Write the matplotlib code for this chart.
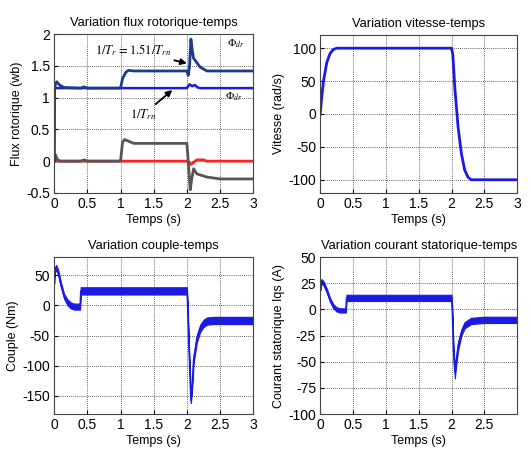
import matplotlib.pyplot as plt
import numpy as np

plt.rcParams['font.family'] = ['Liberation Sans', 'DejaVu Sans']
plt.rcParams['mathtext.fontset'] = 'stix'
plt.rcParams['axes.unicode_minus'] = False

# --- flux (wb) ---
t_phid = [0, 0.005, 0.02, 0.04, 0.08, 0.15, 0.4, 0.45, 0.5, 1.0, 1.03, 1.08, 1.12, 1.2, 2.0, 2.02, 2.04, 2.06, 2.08, 2.1, 2.15, 2.2, 2.3, 3.0]
phid = [0, 1.1, 1.22, 1.25, 1.2, 1.16, 1.15, 1.17, 1.15, 1.15, 1.3, 1.4, 1.43, 1.42, 1.42, 1.35, 1.5, 1.92, 1.75, 1.62, 1.55, 1.48, 1.42, 1.42]
t_phin = [0, 0.005, 2.0, 2.04, 2.08, 2.12, 2.16, 2.2, 3.0]
phin = [0, 1.15, 1.15, 1.21, 1.18, 1.2, 1.16, 1.15, 1.15]
t_phiq = [0, 0.02, 0.05, 0.1, 0.4, 0.45, 0.5, 1.0, 1.03, 1.06, 1.2, 2.0, 2.03, 2.05, 2.07, 2.1, 2.15, 2.3, 2.5, 3.0]
phiq = [0, 0.1, 0.02, 0, 0, 0.02, 0, 0, 0.3, 0.34, 0.28, 0.28, -0.15, -0.45, -0.3, -0.12, -0.2, -0.25, -0.28, -0.28]
t_phir = [0, 2.0, 2.03, 2.06, 2.1, 2.15, 2.25, 2.3, 3.0]
phir = [0, 0, -0.02, -0.05, -0.02, 0.02, 0.02, 0, 0]

# --- vitesse (rad/s) ---
t_w = [0, 0.02, 0.05, 0.1, 0.15, 0.2, 0.25, 2.0, 2.02, 2.05, 2.1, 2.15, 2.2, 2.25, 2.3, 3.0]
w = [0, 22, 50, 78, 92, 98, 100, 100, 90, 40, -20, -60, -85, -96, -100, -100]

# --- couple (Nm): centre and noise half-width ---
t_ce = [0, 0.01, 0.03, 0.06, 0.1, 0.15, 0.2, 0.25, 0.3, 0.39, 0.4, 0.5, 1.0, 1.5, 2.0, 2.01, 2.03, 2.05, 2.06, 2.08, 2.1, 2.15, 2.2, 2.25, 2.3, 2.4, 2.5, 3.0]
ce = [40, 58, 63, 55, 35, 15, 5, 0, -2, -2, 24, 24, 24, 24, 24, 0, -70, -130, -158, -130, -90, -55, -38, -30, -26, -25, -25, -25]
ce_n = [4, 4, 4, 4, 4, 4, 5, 5, 5, 5, 6, 6, 6, 6, 6, 6, 6, 6, 4, 6, 6, 6, 6, 6, 6, 6, 6, 6]

# --- courant iqs (A) ---
t_iq = [0, 0.02, 0.05, 0.1, 0.15, 0.2, 0.25, 0.3, 0.39, 0.4, 0.5, 1.0, 1.5, 2.0, 2.01, 2.03, 2.05, 2.07, 2.1, 2.15, 2.2, 2.3, 2.5, 3.0]
iq = [20, 27, 25, 18, 9, 3, 0, -1, -1, 11, 11, 11, 11, 11, 0, -40, -60, -50, -35, -22, -15, -11, -10, -10]
iq_n = [2, 2, 2, 2, 2, 2, 2, 2, 2, 3, 3, 3, 3, 3, 3, 4, 6, 4, 4, 3, 3, 3, 3, 3]

navy = '#1c3a8f'
blue = '#1a1ae6'
gray = '#555555'
red = '#ff2020'

fig = plt.figure(figsize=(5.31, 4.55), dpi=100)
ax1 = fig.add_axes([0.102, 0.576, 0.375, 0.349])
ax2 = fig.add_axes([0.603, 0.576, 0.371, 0.347])
ax3 = fig.add_axes([0.102, 0.090, 0.375, 0.345])
ax4 = fig.add_axes([0.603, 0.090, 0.371, 0.345])


def style(ax, title, ylabel):
    ax.set_title(title, fontsize=9.3, pad=6)
    ax.set_xlabel('Temps (s)', fontsize=9, labelpad=2)
    ax.set_ylabel(ylabel, fontsize=9, labelpad=2)
    ax.grid(True, color='#333333', linestyle=(0, (1, 1.5)), linewidth=0.6)
    ax.tick_params(direction='in', labelsize=10, length=3, pad=3)
    ax.set_xlim(0, 3)
    for s in ax.spines.values():
        s.set_color('#444444')


# flux
ax1.plot(t_phir, phir, color=red, lw=2)
ax1.plot(t_phiq, phiq, color=gray, lw=2)
ax1.plot(t_phin, phin, color=blue, lw=1.8)
ax1.plot(t_phid, phid, color=navy, lw=2)
ax1.set_ylim(-0.5, 2)
ax1.set_xticks([0, 0.5, 1, 1.5, 2, 2.5, 3])
ax1.set_xticklabels(['0', '0.5', '1', '1.5', '2', '2.5', '3'])
ax1.set_yticks([-0.5, 0, 0.5, 1, 1.5, 2])
ax1.set_yticklabels(['-0.5', '0', '0.5', '1', '1.5', '2'])
style(ax1, 'Variation flux rotorique-temps', 'Flux rotorique (wb)')
ax1.annotate(r'$1/T_r\,=1.51/T_{rn}$', xy=(2.0, 1.54), xytext=(0.62, 1.68),
             fontsize=9, arrowprops=dict(arrowstyle='-|>', color='black', lw=1.3,
                                          shrinkA=0, shrinkB=0, mutation_scale=9),
             annotation_clip=False)
ax1.annotate(r'$1/T_{rn}$', xy=(1.78, 1.12), xytext=(1.15, 0.68),
             fontsize=9, arrowprops=dict(arrowstyle='-|>', color='black', lw=1.3,
                                          shrinkA=0, shrinkB=0, mutation_scale=9))
ax1.text(2.6, 1.8, r'$\Phi_{dr}$', fontsize=8)
ax1.text(2.58, 0.97, r'$\Phi_{dr}$', fontsize=8)

# vitesse
ax2.plot(t_w, w, color=blue, lw=2)
ax2.set_ylim(-120, 120)
ax2.set_yticks([-100, -50, 0, 50, 100])
ax2.set_xticks([0, 0.5, 1, 1.5, 2, 2.5, 3])
ax2.set_xticklabels(['0', '0.5', '1', '1.5', '2', '2.5', '3'])
style(ax2, 'Variation vitesse-temps', 'Vitesse (rad/s)')

# couple
ce_a = np.array(ce)
ce_na = np.array(ce_n)
ax3.fill_between(t_ce, ce_a - ce_na, ce_a + ce_na, color=blue, lw=0.8)
ax3.plot(t_ce, ce, color=blue, lw=1)
ax3.set_ylim(-180, 80)
ax3.set_yticks([-150, -100, -50, 0, 50])
ax3.set_xticks([0, 0.5, 1, 1.5, 2, 2.5, 3])
ax3.set_xticklabels(['0', '0.5', '1', '1.5', '2', '2.5', '3'])
style(ax3, 'Variation couple-temps', 'Couple (Nm)')

# courant
iq_a = np.array(iq)
iq_na = np.array(iq_n)
ax4.fill_between(t_iq, iq_a - iq_na, iq_a + iq_na, color=blue, lw=0.8)
ax4.plot(t_iq, iq, color=blue, lw=1)
ax4.set_ylim(-100, 50)
ax4.set_yticks([-100, -75, -50, -25, 0, 25, 50])
ax4.set_xticks([0, 0.5, 1, 1.5, 2, 2.5])
ax4.set_xticklabels(['0', '0.5', '1', '1.5', '2', '2.5'])
style(ax4, 'Variation courant statorique-temps', 'Courant statorique Iqs (A)')

fig.savefig('out.png', dpi=100)
